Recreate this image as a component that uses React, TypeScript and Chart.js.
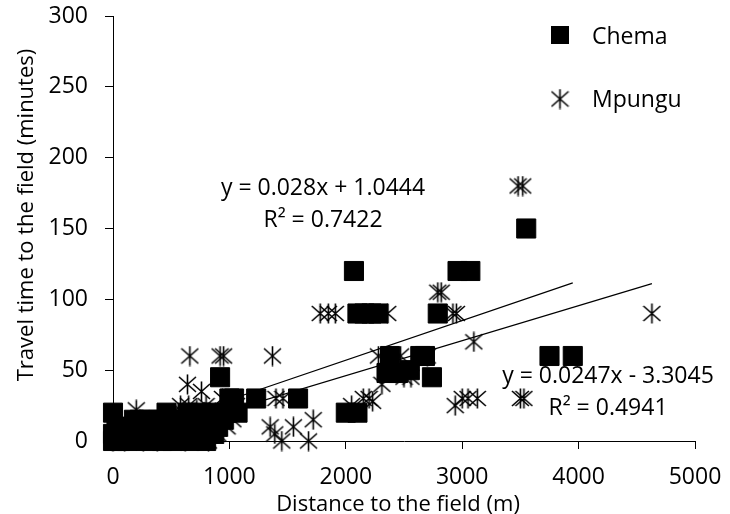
import React, { useEffect, useRef } from "react";
import { Chart, registerables } from "chart.js";

Chart.register(...registerables);

// ---------- data ----------
const xTickValues = [0, 1000, 2000, 3000, 4000, 5000];
const yTickValues = [0, 50, 100, 150, 200, 250, 300];
const seriesNames = ["Chema", "Mpungu"];
const xTitle = "Distance to the field (m)";
const yTitle = "Travel time to the field (minutes)";

const chemaPoints: [number, number][] = [
  [0, 0], [0, 5], [0, 20], [30, 10], [60, 0], [90, 5], [120, 0], [150, 10], [180, 15], [200, 5],
  [230, 15], [260, 10], [280, 0], [310, 15], [330, 5], [360, 10], [390, 15], [420, 0], [440, 5], [460, 20],
  [490, 10], [510, 0], [530, 15], [560, 5], [590, 10], [610, 15], [640, 20], [660, 0], [690, 10], [710, 15],
  [730, 5], [760, 20], [780, 10], [800, 0], [830, 15], [850, 20], [870, 5], [900, 10], [920, 45], [950, 15],
  [980, 20], [1000, 30], [1040, 30], [1070, 20], [1230, 30], [1590, 30],
  [2000, 20], [2100, 20], [2070, 120], [2100, 90], [2160, 90], [2220, 90], [2280, 90], [2380, 60],
  [2350, 48], [2450, 48], [2550, 50], [2640, 60], [2680, 60], [2740, 45], [2790, 90], [2960, 120],
  [3070, 120], [3550, 150], [3750, 60], [3950, 60],
];

const mpunguPoints: [number, number][] = [
  [0, 0], [20, 10], [50, 5], [100, 0], [140, 8], [200, 22], [230, 15], [260, 0], [300, 10], [330, 5],
  [380, 0], [420, 12], [460, 15], [500, 5], [540, 10], [580, 25], [600, 20], [620, 0], [640, 40], [650, 25],
  [660, 60], [700, 15], [720, 22], [740, 5], [760, 35], [780, 10], [800, 25], [820, 0], [850, 15], [880, 20],
  [900, 5], [920, 60], [940, 30], [950, 60], [980, 10], [1000, 20], [1030, 15], [1060, 25],
  [1350, 10], [1370, 60], [1390, 5], [1400, 30], [1450, 0], [1460, 30], [1550, 10], [1680, 0], [1720, 15],
  [1780, 90], [1850, 90], [1910, 90], [2050, 25], [2150, 30], [2200, 30], [2230, 28], [2280, 60], [2310, 40],
  [2360, 90], [2370, 60], [2420, 50], [2470, 60], [2500, 45], [2560, 45], [2700, 60], [2790, 105], [2820, 105],
  [2920, 90], [2950, 90], [2940, 25], [3000, 30], [3050, 30], [3100, 70], [3130, 30], [3480, 180], [3520, 180],
  [3500, 30], [3530, 30], [4630, 90],
];

// Trend lines (as printed on the chart)
const chemaTrend = { slope: 0.028, intercept: 1.0444, r2: "0.7422", xMin: 0, xMax: 3950, eq: "y = 0.028x + 1.0444" };
const mpunguTrend = { slope: 0.0247, intercept: -3.3045, r2: "0.4941", xMin: 0, xMax: 4630, eq: "y = 0.0247x - 3.3045" };

const FONT = '"Open Sans", "DejaVu Sans", sans-serif';
const FS = 23;
const TFS = 22;

function makeStar(): HTMLCanvasElement {
  const c = document.createElement("canvas");
  c.width = 19;
  c.height = 21;
  const g = c.getContext("2d")!;
  g.strokeStyle = "#000";
  g.lineWidth = 1.6;
  g.beginPath();
  g.moveTo(9.5, 0.5); g.lineTo(9.5, 20.5);
  g.moveTo(1, 3); g.lineTo(18, 18);
  g.moveTo(18, 3); g.lineTo(1, 18);
  g.stroke();
  return c;
}

function trendPoints(t: { slope: number; intercept: number; xMin: number; xMax: number }) {
  return [t.xMin, t.xMax].map((x) => ({ x, y: t.slope * x + t.intercept }));
}

export default function App() {
  const ref = useRef<HTMLCanvasElement>(null);
  useEffect(() => {
    if (!ref.current) return;
    const star = makeStar();

    const overlay = {
      id: "overlay",
      afterDraw(chart: any) {
        const ctx = chart.ctx as CanvasRenderingContext2D;
        ctx.save();
        ctx.fillStyle = "#000";
        ctx.textBaseline = "alphabetic";
        // axis titles
        ctx.font = `${TFS}px ${FONT}`;
        ctx.textAlign = "center";
        ctx.fillText(xTitle, 398, 511);
        ctx.save();
        ctx.translate(33, 215);
        ctx.rotate(-Math.PI / 2);
        ctx.fillText(yTitle, 0, 0);
        ctx.restore();
        // trend equations
        ctx.font = `${FS}px ${FONT}`;
        ctx.fillText(chemaTrend.eq, 323, 195);
        ctx.fillText(`R² = ${chemaTrend.r2}`, 323, 227);
        ctx.fillText(mpunguTrend.eq, 608, 383);
        ctx.fillText(`R² = ${mpunguTrend.r2}`, 608, 415);
        // legend
        ctx.fillRect(551, 26, 18, 18);
        ctx.drawImage(star, 560 - star.width / 2, 99 - star.height / 2);
        ctx.textAlign = "left";
        ctx.fillText(seriesNames[0], 592, 44);
        ctx.fillText(seriesNames[1], 592, 107);
        ctx.restore();
      },
    };

    const chart = new Chart(ref.current, {
      type: "scatter",
      data: {
        datasets: [
          {
            label: seriesNames[0],
            data: chemaPoints.map(([x, y]) => ({ x, y })),
            pointStyle: "rect",
            pointRadius: 13.5,
            pointBackgroundColor: "#000",
            pointBorderColor: "#000",
            pointBorderWidth: 1,
            showLine: false,
            clip: false,
          },
          {
            label: seriesNames[1],
            data: mpunguPoints.map(([x, y]) => ({ x, y })),
            pointStyle: star as any,
            pointRadius: 10,
            showLine: false,
            clip: false,
          },
          {
            label: "Chema trend",
            data: trendPoints(chemaTrend),
            showLine: true,
            borderColor: "#000",
            borderWidth: 1.2,
            pointRadius: 0,
          },
          {
            label: "Mpungu trend",
            data: trendPoints(mpunguTrend),
            showLine: true,
            borderColor: "#000",
            borderWidth: 1.2,
            pointRadius: 0,
          },
        ],
      },
      options: {
        responsive: false,
        animation: false,
        devicePixelRatio: 1,
        layout: { padding: { left: 0, right: 35, top: 16, bottom: 0 } },
        plugins: { legend: { display: false }, tooltip: { enabled: false } },
        scales: {
          x: {
            type: "linear",
            min: 0,
            max: 5000,
            afterBuildTicks: (s: any) => { s.ticks = xTickValues.map((v) => ({ value: v })); },
            afterFit: (s: any) => { s.height = 73; s.paddingLeft = 0; s.paddingRight = 0; },
            ticks: { color: "#000", font: { family: FONT, size: FS }, padding: 15, maxRotation: 0, callback: (v: any) => String(v) },
            grid: { display: true, drawOnChartArea: false, drawTicks: true, tickLength: 8, color: "#000" },
            border: { display: true, color: "#000", width: 1 },
            title: { display: false },
          },
          y: {
            type: "linear",
            min: 0,
            max: 300,
            afterBuildTicks: (s: any) => { s.ticks = yTickValues.map((v) => ({ value: v })); },
            afterFit: (s: any) => { s.width = 113; s.paddingTop = 0; s.paddingBottom = 0; },
            ticks: { color: "#000", font: { family: FONT, size: FS }, padding: 17, callback: (v: any) => String(v) },
            grid: { display: true, drawOnChartArea: false, drawTicks: true, tickLength: 8, color: "#000" },
            border: { display: true, color: "#000", width: 1 },
            title: { display: false },
          },
        },
      },
      plugins: [overlay],
    });
    return () => chart.destroy();
  }, []);

  return (
    <div style={{ position: "absolute", left: 0, top: 0, width: 730, height: 514, background: "#fff" }}>
      <canvas ref={ref} width={730} height={514} style={{ display: "block" }} />
    </div>
  );
}
